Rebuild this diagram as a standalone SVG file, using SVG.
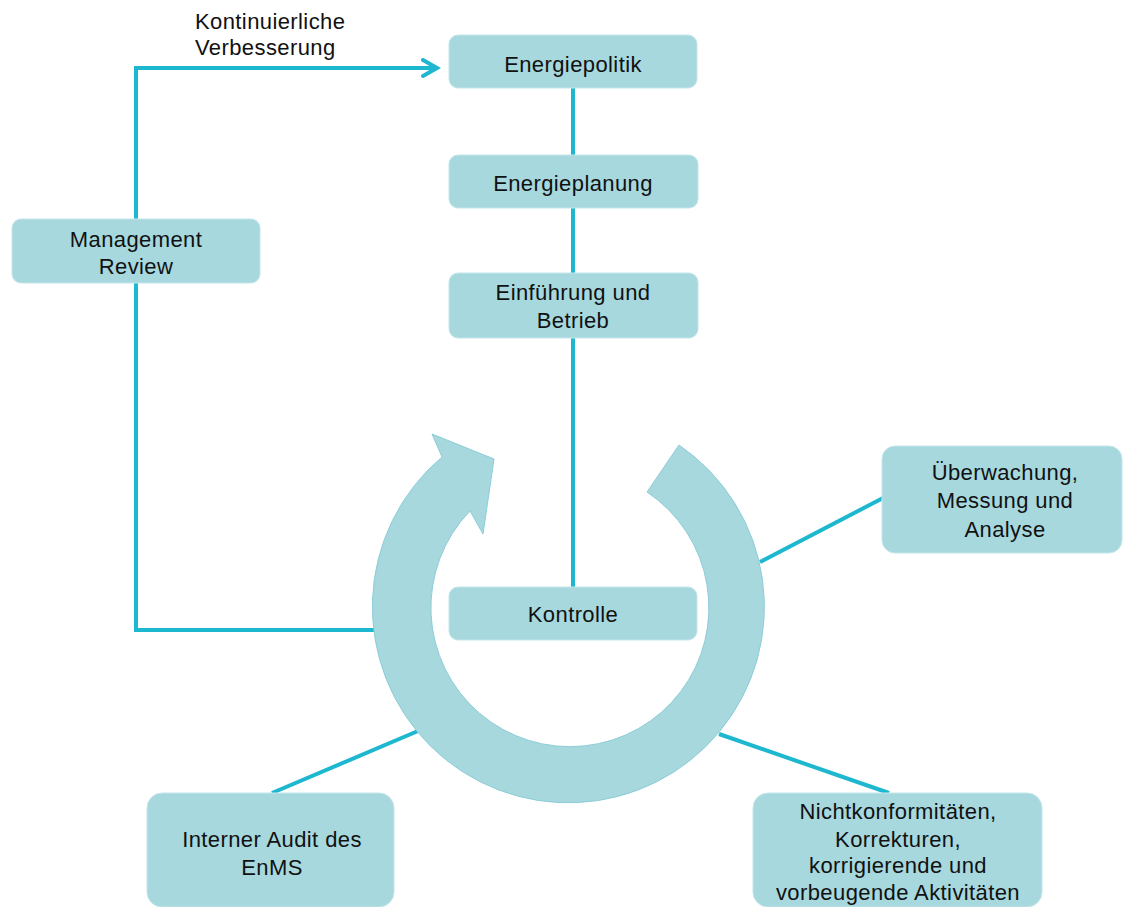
<svg xmlns="http://www.w3.org/2000/svg" width="1123" height="907" viewBox="0 0 1123 907">
<style>
.box{fill:#a6d8de;stroke:#c4e6ea;stroke-width:1}
.lbl{font-family:"Liberation Sans",Arial,sans-serif;font-size:22px;letter-spacing:0.4px;fill:#111;text-anchor:middle}
.free{font-family:"Liberation Sans",Arial,sans-serif;font-size:22px;letter-spacing:0.4px;fill:#111}
.con{fill:none;stroke:#1db8cf;stroke-width:4}
.ring{fill:#a6d8de;stroke:#8dcdd7;stroke-width:1}
</style>
<defs>
<marker id="chev" markerUnits="userSpaceOnUse" markerWidth="22" markerHeight="22" refX="15" refY="10" orient="auto">
<path d="M2,2 L16,10 L2,18" fill="none" stroke="#1db8cf" stroke-width="4" stroke-linejoin="miter" stroke-linecap="round"/>
</marker>
</defs>
<rect width="1123" height="907" fill="#ffffff"/>
<g id="connectors">
<polyline class="con" points="375,630 136,630 136,68 436,68" marker-end="url(#chev)"/>
<line class="con" x1="573" y1="88" x2="573" y2="587"/>
<line class="con" x1="760" y1="562" x2="883" y2="498"/>
<line class="con" x1="272" y1="793" x2="418" y2="731"/>
<line class="con" x1="719" y1="734" x2="889" y2="793"/>
</g>
<g id="cycle">
<path class="ring" d="M 679 445 A 196 196 0 1 1 442 457 L 432 434 L 494 459 L 483 534 L 470 511 A 139 139 0 1 0 647 492 Z"/>
</g>
<text class="free" x="195" y="29">Kontinuierliche</text>
<text class="free" x="195" y="55">Verbesserung</text>
<g id="energiepolitik">
<rect class="box" x="449" y="35" width="248" height="53" rx="9"/>
<text class="lbl" x="573" y="72">Energiepolitik</text>
</g>
<g id="energieplanung">
<rect class="box" x="449" y="155" width="249" height="53" rx="9"/>
<text class="lbl" x="573" y="191">Energieplanung</text>
</g>
<g id="einfuehrung">
<rect class="box" x="449" y="273" width="249" height="65" rx="9"/>
<text class="lbl" x="573" y="300">Einführung und</text>
<text class="lbl" x="573" y="328">Betrieb</text>
</g>
<g id="management-review">
<rect class="box" x="12" y="219" width="248" height="64" rx="9"/>
<text class="lbl" x="136" y="247">Management</text>
<text class="lbl" x="136" y="274">Review</text>
</g>
<g id="kontrolle">
<rect class="box" x="449" y="587" width="248" height="53" rx="9"/>
<text class="lbl" x="573" y="622">Kontrolle</text>
</g>
<g id="ueberwachung">
<rect class="box" x="882" y="446" width="240" height="107" rx="13"/>
<text class="lbl" x="1005" y="480">Überwachung,</text>
<text class="lbl" x="1005" y="508">Messung und</text>
<text class="lbl" x="1005" y="537">Analyse</text>
</g>
<g id="interner-audit">
<rect class="box" x="147" y="793" width="247" height="114" rx="15"/>
<text class="lbl" x="272" y="847">Interner Audit des</text>
<text class="lbl" x="272" y="875">EnMS</text>
</g>
<g id="nichtkonformitaeten">
<rect class="box" x="753" y="793" width="289" height="114" rx="15"/>
<text class="lbl" x="898" y="819">Nichtkonformitäten,</text>
<text class="lbl" x="898" y="847">Korrekturen,</text>
<text class="lbl" x="898" y="873">korrigierende und</text>
<text class="lbl" x="898" y="900">vorbeugende Aktivitäten</text>
</g>
</svg>
